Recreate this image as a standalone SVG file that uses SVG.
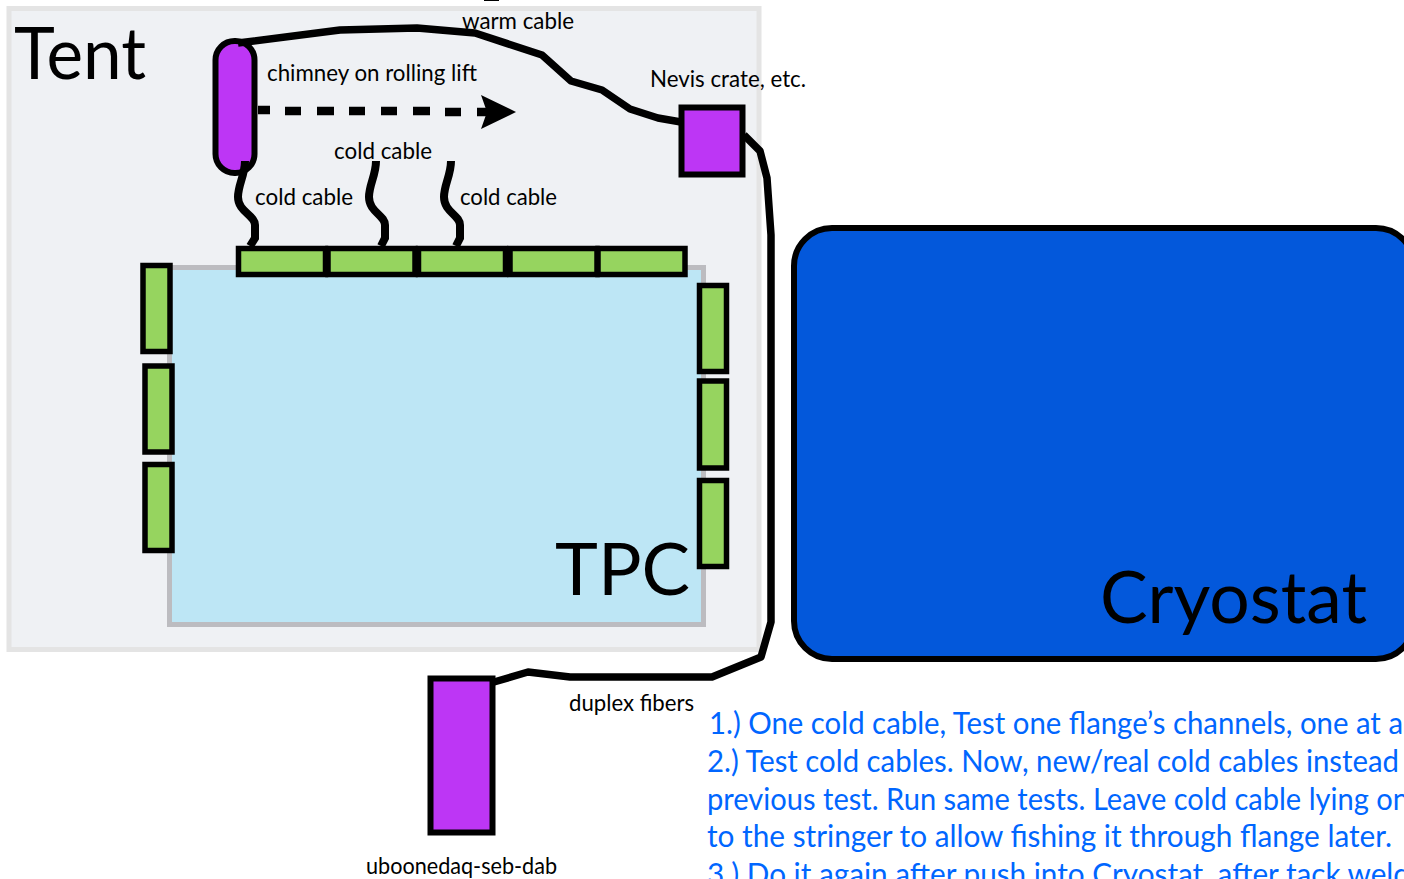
<svg xmlns="http://www.w3.org/2000/svg" width="1404" height="879" viewBox="0 0 1404 879">
<style>
text{font-family:"Lato","Open Sans","Liberation Sans",sans-serif;fill:#000}
.l{font-size:23px}
.b{font-size:30px;fill:#0066ff}
.h{font-size:72px}
.box{stroke:#000;stroke-width:6;fill:#bd36f5}
.g{fill:#96d45f;stroke:#000;stroke-width:5.5}
.c{fill:none;stroke:#000;stroke-width:7.500;stroke-linejoin:round}
.w{fill:none;stroke:#000;stroke-width:8}
</style>
<rect width="1404" height="879" fill="#fff"/>
<rect x="484" y="0" width="15" height="1" fill="#000"/>
<g id="tent">
<rect x="9" y="8.500" width="750" height="641" fill="#eff1f4" stroke="#e4e4e4" stroke-width="5"/>
<text class="h" x="14" y="79" textLength="132" lengthAdjust="spacingAndGlyphs">Tent</text>
</g>
<g id="tpc">
<rect x="169.500" y="267.500" width="534" height="357" fill="#bde6f5" stroke="#bcbcc0" stroke-width="5"/>
<text class="h" x="555" y="595" textLength="135" lengthAdjust="spacingAndGlyphs">TPC</text>
</g>
<g id="cryostat">
<rect x="794" y="228" width="620" height="431" rx="38" fill="#0358db" stroke="#000" stroke-width="6"/>
<text class="h" x="1100" y="623" textLength="267" lengthAdjust="spacingAndGlyphs">Cryostat</text>
</g>
<g id="chimney"><rect x="215.500" y="41" width="39" height="132" rx="19" class="box"/></g>
<g id="nevis"><rect x="681.500" y="107.500" width="61" height="67" class="box"/></g>
<g id="seb"><rect x="430.500" y="678.500" width="62" height="154" class="box"/></g>
<g id="connectors">
<path class="c" d="M238 43 L340 30 L417 28 L475 33 L542 55 L571 81 L602 90 L630 109 L658 118 L681 122"/>
<path class="c" d="M744 135 L760 151 L767 178 L771 235 L771 622 L761 657 L712 677 L570 677 L528 672 L494 682"/>
<path class="w" d="M245 161 C245 175 238 185 238 197 C238 212 255 215 255 225 L255 238 L250 246"/>
<path class="w" d="M376 161 C376 175 369 185 369 197 C369 212 385 215 385 225 L385 238 L381 246"/>
<path class="w" d="M451 161 C451 175 444 185 444 197 C444 212 460 215 460 225 L460 238 L456 246"/>
<path d="M258 110 H270 M285 111 H301 M317 111 H334 M349 111 H365 M381 111 H397 M413 111 H430 M445 112 H461 M477 112 H490" fill="none" stroke="#000" stroke-width="8.500"/>
<path d="M481 95 L516 112 L481 129 L487 112 Z" fill="#000"/>
</g>
<g id="top-cards">
<rect class="g" x="238.500" y="248.500" width="87" height="26"/>
<rect class="g" x="328" y="248.500" width="87" height="26"/>
<rect class="g" x="418.500" y="248.500" width="87" height="26"/>
<rect class="g" x="510" y="248.500" width="87" height="26"/>
<rect class="g" x="598" y="248.500" width="87" height="26"/>
</g>
<g id="left-cards">
<rect class="g" x="143" y="265.500" width="27" height="86"/>
<rect class="g" x="145" y="366" width="27" height="86"/>
<rect class="g" x="145" y="464.500" width="27" height="86"/>
</g>
<g id="right-cards">
<rect class="g" x="699.500" y="285.500" width="27" height="86"/>
<rect class="g" x="699.500" y="381" width="27" height="87"/>
<rect class="g" x="699.500" y="480.500" width="27" height="86"/>
</g>
<g id="labels">
<text class="l" x="462" y="29" textLength="112" lengthAdjust="spacingAndGlyphs">warm cable</text>
<text class="l" x="267" y="81" textLength="210" lengthAdjust="spacingAndGlyphs">chimney on rolling lift</text>
<text class="l" x="650" y="87" textLength="156" lengthAdjust="spacingAndGlyphs">Nevis crate, etc.</text>
<text class="l" x="334" y="159" textLength="98" lengthAdjust="spacingAndGlyphs">cold cable</text>
<text class="l" x="255" y="205" textLength="98" lengthAdjust="spacingAndGlyphs">cold cable</text>
<text class="l" x="460" y="205" textLength="97" lengthAdjust="spacingAndGlyphs">cold cable</text>
<text class="l" x="569" y="711" textLength="125" lengthAdjust="spacingAndGlyphs">duplex fibers</text>
<text class="l" x="366" y="874" textLength="191" lengthAdjust="spacingAndGlyphs">uboonedaq-seb-dab</text>
</g>
<g id="notes">
<text class="b" x="709" y="734" textLength="694" lengthAdjust="spacingAndGlyphs">1.) One cold cable, Test one flange’s channels, one at a</text>
<text class="b" x="707" y="772" textLength="692" lengthAdjust="spacingAndGlyphs">2.) Test cold cables. Now, new/real cold cables instead</text>
<text class="b" x="707" y="810" textLength="702" lengthAdjust="spacingAndGlyphs">previous test. Run same tests. Leave cold cable lying on</text>
<text class="b" x="707" y="847" textLength="685" lengthAdjust="spacingAndGlyphs">to the stringer to allow fishing it through flange later.</text>
<text class="b" x="707" y="885" textLength="703" lengthAdjust="spacingAndGlyphs">3.) Do it again after push into Cryostat, after tack weld</text>
</g>
</svg>
